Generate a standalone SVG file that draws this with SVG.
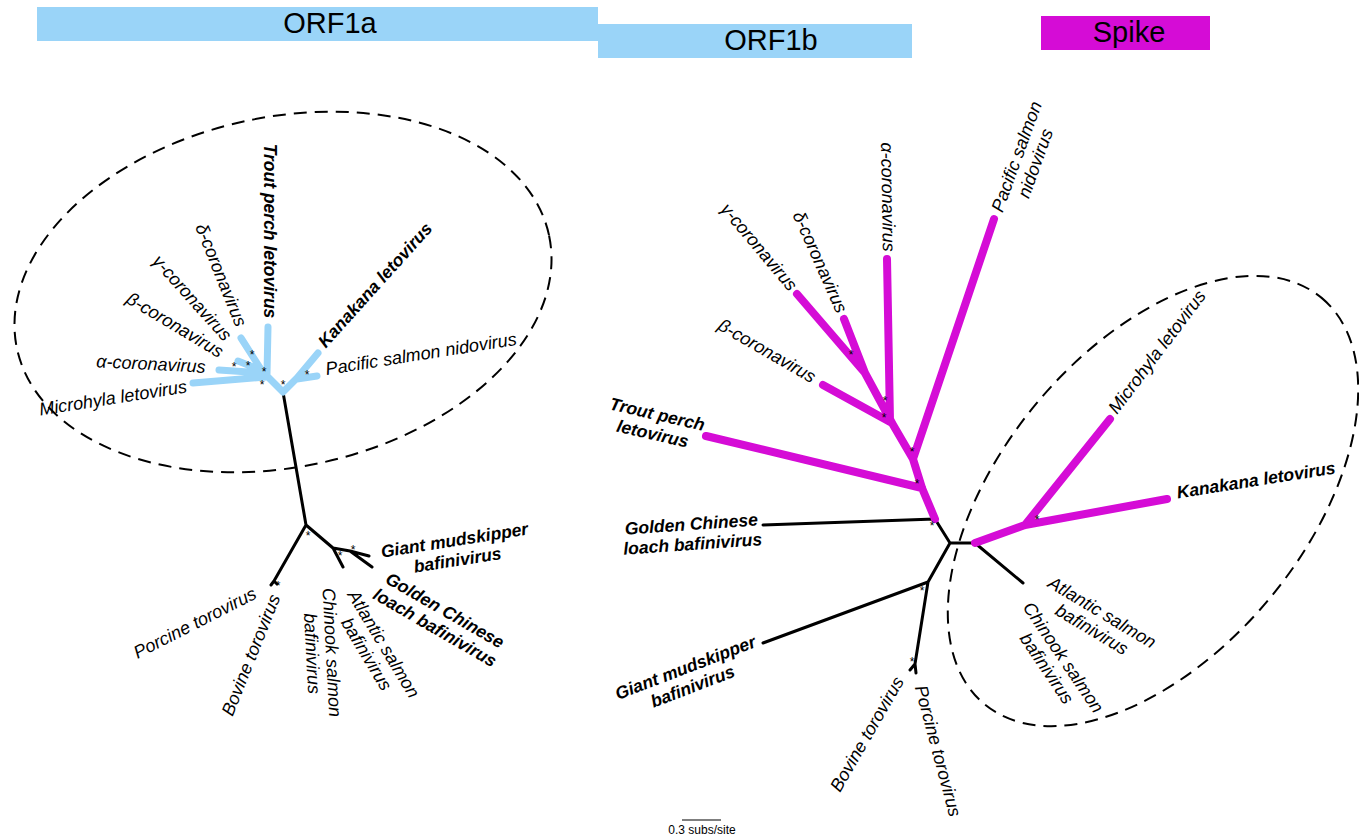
<svg xmlns="http://www.w3.org/2000/svg" width="1359" height="837" viewBox="0 0 1359 837">
<style>
text{font-family:"Liberation Sans",Arial,Helvetica,sans-serif;fill:#000}
.hd{font-size:29px;text-anchor:middle}
.lb{font-size:18px;font-style:italic;text-anchor:middle;dominant-baseline:central}
.b{font-weight:bold;font-size:17.5px}
.st{font-size:12px;text-anchor:middle}
.blue{stroke:#9ad4f8;stroke-width:7;stroke-linecap:round;fill:none}
.mag{stroke:#d50cd6;stroke-width:8;stroke-linecap:round;fill:none}
.blk{stroke:#000;stroke-width:3;stroke-linecap:round;fill:none}
.ell{stroke:#000;stroke-width:2;stroke-dasharray:13 8;fill:none}
</style>
<rect width="1359" height="837" fill="#fff"/>
<g id="headers">
<rect x="37" y="7" width="561" height="34" fill="#9ad4f8"/>
<rect x="598" y="24" width="314" height="34" fill="#9ad4f8"/>
<rect x="1041" y="16" width="169" height="34" fill="#d50cd6"/>
<text class="hd" x="330" y="33">ORF1a</text>
<text class="hd" x="771" y="50">ORF1b</text>
<text class="hd" x="1129" y="42">Spike</text>
</g>
<g id="clades">
<ellipse class="ell" cx="283" cy="292" rx="272" ry="175" transform="rotate(-12 283 292)"/>
<ellipse class="ell" cx="1153" cy="501" rx="264" ry="152" transform="rotate(-50.3 1153 501)"/>
</g>
<g id="connectors">
<path class="blk" d="M283,392 L306,525 M306,525 L274,581 M274,581 L271,585 M274,581 L277,584 M306,525 L333,548 M333,548 L343,567 M333,548 L350,551 M350,551 L369,556 M350,551 L372,567"/>
<path class="blue" d="M283,392 L266,375 M268,327 L267,374 M193,383 L266,377 M219,370 L264,373 M238,361 L258,369 M241,338 L262,371 M283,392 L297,378 M297,378 L318,353 M297,379 L317,376"/>
<path class="blk" d="M763,525 L935,519 M935,519 L950,543 M950,543 L975,543 M950,543 L928,582 M928,582 L763,643 M928,582 L915,664 M915,664 L910,670 M915,664 L916,673 M975,543 L1023,583"/>
<path class="mag" d="M975,543 L1025,525 M1025,525 L1110,419 M1025,525 L1167,499 M935,519 L922,488 M922,488 L706,436 M922,488 L913,459 M913,459 L994,219 M913,459 L892,423 M892,423 L823,385 M890,421 L887,259 M892,423 L865,373 M865,373 L797,294 M865,373 L844,319"/>
</g>
<g id="support">
<text class="st" x="252" y="359">*</text>
<text class="st" x="234" y="371">*</text>
<text class="st" x="248" y="370">*</text>
<text class="st" x="264" y="376">*</text>
<text class="st" x="262" y="389">*</text>
<text class="st" x="283" y="389">*</text>
<text class="st" x="307" y="379">*</text>
<text class="st" x="308" y="540">*</text>
<text class="st" x="278" y="590">*</text>
<text class="st" x="353" y="554">*</text>
<text class="st" x="340" y="560">*</text>
<text class="st" x="851" y="359">*</text>
<text class="st" x="885" y="405">*</text>
<text class="st" x="884" y="422">*</text>
<text class="st" x="912" y="456">*</text>
<text class="st" x="917" y="488">*</text>
<text class="st" x="932" y="530">*</text>
<text class="st" x="922" y="595">*</text>
<text class="st" x="912" y="666">*</text>
<text class="st" x="1037" y="524">*</text>
</g>
<g id="n-microhyla-1a"><text class="lb" transform="translate(113,398) rotate(-9)">Microhyla letovirus</text></g>
<g id="n-alpha-1a"><text class="lb" transform="translate(151,364) rotate(3)">α-coronavirus</text></g>
<g id="n-beta-1a"><text class="lb" transform="translate(175,325) rotate(31)">β-coronavirus</text></g>
<g id="n-gamma-1a"><text class="lb" transform="translate(192,298) rotate(48)">γ-coronavirus</text></g>
<g id="n-delta-1a"><text class="lb" transform="translate(221,275) rotate(68)">δ-coronavirus</text></g>
<g id="n-trout-1a"><text class="lb b" transform="translate(270,231) rotate(90)">Trout perch letovirus</text></g>
<g id="n-kanakana-1a"><text class="lb b" transform="translate(375,285) rotate(-48)">Kanakana letovirus</text></g>
<g id="n-pacific-1a"><text class="lb" transform="translate(421,354) rotate(-9)">Pacific salmon nidovirus</text></g>
<g id="n-porcine-1a"><text class="lb" transform="translate(195,623) rotate(-27)">Porcine torovirus</text></g>
<g id="n-bovine-1a"><text class="lb" transform="translate(251,655) rotate(-68)">Bovine torovirus</text></g>
<g id="n-chinook-1a" transform="translate(322,653) rotate(87)"><text class="lb" y="-10">Chinook salmon</text><text class="lb" y="10">bafinivirus</text></g>
<g id="n-atlantic-1a" transform="translate(375,649) rotate(59)"><text class="lb" y="-10">Atlantic salmon</text><text class="lb" y="10">bafinivirus</text></g>
<g id="n-golden-1a" transform="translate(440,619) rotate(30)"><text class="lb b" y="-10">Golden Chinese</text><text class="lb b" y="10">loach bafinivirus</text></g>
<g id="n-giant-1a" transform="translate(456,550) rotate(-9)"><text class="lb b" y="-10">Giant mudskipper</text><text class="lb b" y="10">bafinivirus</text></g>
<g id="n-trout-1b" transform="translate(655,424) rotate(13)"><text class="lb b" y="-10">Trout perch</text><text class="lb b" y="10">letovirus</text></g>
<g id="n-beta-1b"><text class="lb" transform="translate(767,351) rotate(30)">β-coronavirus</text></g>
<g id="n-gamma-1b"><text class="lb" transform="translate(759,247) rotate(50)">γ-coronavirus</text></g>
<g id="n-delta-1b"><text class="lb" transform="translate(820,262) rotate(66)">δ-coronavirus</text></g>
<g id="n-alpha-1b"><text class="lb" transform="translate(888,197) rotate(89)">α-coronavirus</text></g>
<g id="n-pacific-1b" transform="translate(1026,160) rotate(-70)"><text class="lb" y="-10">Pacific salmon</text><text class="lb" y="10">nidovirus</text></g>
<g id="n-golden-1b" transform="translate(692,534) rotate(-4)"><text class="lb b" y="-10">Golden Chinese</text><text class="lb b" y="10">loach bafinivirus</text></g>
<g id="n-giant-1b" transform="translate(689,677) rotate(-21)"><text class="lb b" y="-10">Giant mudskipper</text><text class="lb b" y="10">bafinivirus</text></g>
<g id="n-bovine-1b"><text class="lb" transform="translate(867,734) rotate(-60)">Bovine torovirus</text></g>
<g id="n-porcine-1b"><text class="lb" transform="translate(938,751) rotate(75)">Porcine torovirus</text></g>
<g id="n-microhyla-s"><text class="lb" transform="translate(1157,352) rotate(-53)">Microhyla letovirus</text></g>
<g id="n-kanakana-s"><text class="lb b" transform="translate(1256,480) rotate(-9)">Kanakana letovirus</text></g>
<g id="n-atlantic-s" transform="translate(1097,621) rotate(31)"><text class="lb" y="-10">Atlantic salmon</text><text class="lb" y="10">bafinivirus</text></g>
<g id="n-chinook-s" transform="translate(1055,663) rotate(56)"><text class="lb" y="-10">Chinook salmon</text><text class="lb" y="10">bafinivirus</text></g>
<g id="scale">
<line x1="682" y1="820" x2="721" y2="820" stroke="#000" stroke-width="1.2"/>
<text x="702" y="834" font-size="12" text-anchor="middle">0.3 subs/site</text>
</g>
</svg>
